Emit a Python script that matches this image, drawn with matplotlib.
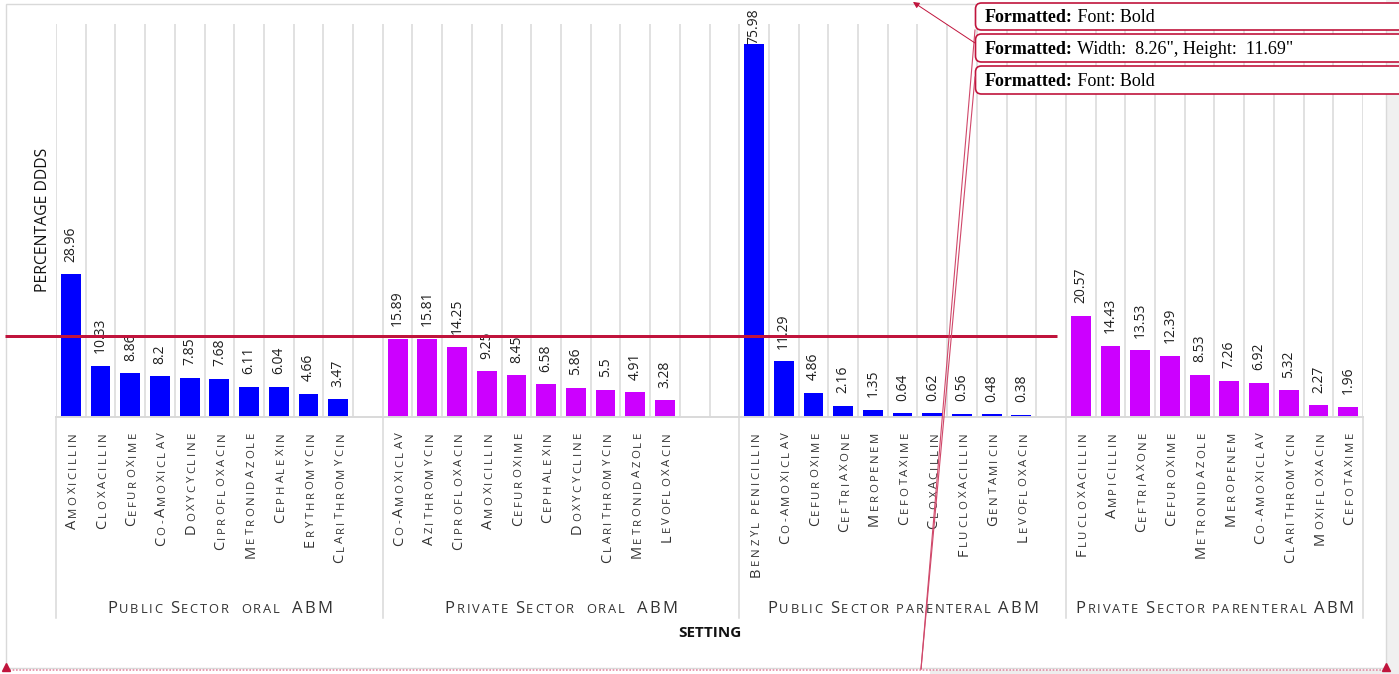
import matplotlib
matplotlib.use("Agg")
import matplotlib.pyplot as plt
from matplotlib.font_manager import FontProperties
from matplotlib.textpath import TextToPath
from matplotlib.patches import FancyBboxPatch, Rectangle

# ---------------------------------------------------------------- data
group_names = [
    "Public Sector  oral  ABM",
    "Private Sector  oral  ABM",
    "Public Sector parenteral ABM",
    "Private Sector parenteral ABM",
]

public_oral_drugs = ["Amoxicillin", "Cloxacillin", "Cefuroxime", "Co-Amoxiclav",
                     "Doxycycline", "Ciprofloxacin", "Metronidazole", "Cephalexin",
                     "Erythromycin", "Clarithromycin"]
public_oral_ddd = [28.96, 10.33, 8.86, 8.2, 7.85, 7.68, 6.11, 6.04, 4.66, 3.47]

private_oral_drugs = ["Co-Amoxiclav", "Azithromycin", "Ciprofloxacin", "Amoxicillin",
                      "Cefuroxime", "Cephalexin", "Doxycycline", "Clarithromycin",
                      "Metronidazole", "Levofloxacin"]
private_oral_ddd = [15.89, 15.81, 14.25, 9.25, 8.45, 6.58, 5.86, 5.5, 4.91, 3.28]

public_parenteral_drugs = ["Benzyl penicillin", "Co-amoxiclav", "Cefuroxime", "Ceftriaxone",
                           "Meropenem", "Cefotaxime", "Cloxacillin", "Flucloxacillin",
                           "Gentamicin", "Levofloxacin"]
public_parenteral_ddd = [75.98, 11.29, 4.86, 2.16, 1.35, 0.64, 0.62, 0.56, 0.48, 0.38]

private_parenteral_drugs = ["Flucloxacillin", "Ampicillin", "Ceftriaxone", "Cefuroxime",
                            "Metronidazole", "Meropenem", "Co-amoxiclav", "Clarithromycin",
                            "Moxifloxacin", "Cefotaxime"]
private_parenteral_ddd = [20.57, 14.43, 13.53, 12.39, 8.53, 7.26, 6.92, 5.32, 2.27, 1.96]

# empty category slots that close each group on the axis
group_blank_slots = [1, 2, 1, 0]

y_label = "PERCENTAGE DDDS"
x_label = "SETTING"
y_max = 80

balloon_notes = [("Formatted:", " Font: Bold"),
                 ("Formatted:", " Width:  8.26\", Height:  11.69\""),
                 ("Formatted:", " Font: Bold")]

# ---------------------------------------------------------------- style
W, H, DPI = 1399, 674, 100
FONT = ["Open Sans", "DejaVu Sans"]
SERIF = ["Liberation Serif", "DejaVu Serif"]
BLUE, MAGENTA = "#0000ff", "#cc00ff"
group_colors = [BLUE, MAGENTA, BLUE, MAGENTA]
GRID = "#d9d9d9"
LABEL_GREY = "#333333"
MARKUP = "#c0143c"
PX = 72.0 / DPI  # points per pixel

plt.rcParams["font.family"] = FONT

groups = [
    (public_oral_drugs, public_oral_ddd),
    (private_oral_drugs, private_oral_ddd),
    (public_parenteral_drugs, public_parenteral_ddd),
    (private_parenteral_drugs, private_parenteral_ddd),
]

fig = plt.figure(figsize=(W / DPI, H / DPI), dpi=DPI)
fig.patch.set_facecolor("white")

# plot area in pixels: left 56, right 1363, top 24, baseline 416.5
ax_left, ax_right, ax_top, ax_base = 56, 1363, 24, 416.5
ax = fig.add_axes([ax_left / W, (H - ax_base) / H,
                   (ax_right - ax_left) / W, (ax_base - ax_top) / H])
ax_h_px = ax_base - ax_top

# slot positions for every category (including blank ones)
positions, values, names, colors, bounds = [], [], [], [], [0]
slot = 0
for (drugs, ddd), blanks, col in zip(groups, group_blank_slots, group_colors):
    for d, v in zip(drugs, ddd):
        positions.append(slot)
        values.append(v)
        names.append(d)
        colors.append(col)
        slot += 1
    slot += blanks
    bounds.append(slot)
n_slots = slot

ax.bar(positions, values, width=0.667, color=colors, zorder=2, linewidth=0)
ax.set_xlim(-0.5, n_slots - 0.5)
ax.set_ylim(0, y_max)

ax.set_xticks([b - 0.5 for b in range(n_slots + 1)], minor=True)
ax.set_xticks([])
ax.set_yticks([])
ax.grid(which="minor", axis="x", color=GRID, lw=1.1, zorder=0)
ax.set_axisbelow(True)
ax.tick_params(which="both", length=0, labelbottom=False, labelleft=False)
for side in ("top", "right", "left"):
    ax.spines[side].set_visible(False)
ax.spines["bottom"].set_color(GRID)
ax.spines["bottom"].set_linewidth(1.4)
ax.spines["bottom"].set_zorder(3)

xt = ax.get_xaxis_transform()

# group separators running down through the category area
sep_depth = (618 - ax_base) / ax_h_px
for b in bounds:
    ax.plot([b - 0.5, b - 0.5], [0, -sep_depth], transform=xt, color=GRID,
            lw=1.1, clip_on=False, zorder=1)

# ---------------------------------------------------------------- small caps text
t2p = TextToPath()


def advance(ch, size):
    fp = FontProperties(family=FONT, size=size)
    w_in = t2p.get_text_width_height_descent("H" + ch + "H", fp, ismath=False)[0]
    w_out = t2p.get_text_width_height_descent("HH", fp, ismath=False)[0]
    return w_in - w_out


def smallcaps_glyphs(text, big, small):
    out = []
    for ch in text:
        if ch.isupper():
            out.append((ch, big))
        else:
            out.append((ch.upper(), small))
    return out


def draw_smallcaps(x, text, big, small, tracking, vertical, along0, across, color):
    glyphs = smallcaps_glyphs(text, big, small)
    adv = [advance(c, s) for c, s in glyphs]
    total = sum(adv) + tracking * (len(glyphs) - 1)
    pos = along0 - total if vertical else along0 - total / 2
    for (c, s), a in zip(glyphs, adv):
        if c.strip():
            if vertical:
                off = (across, pos)
            else:
                off = (pos, across)
            ax.annotate(c, xy=(x, 0), xycoords=xt, xytext=off,
                        textcoords="offset points", rotation=90 if vertical else 0,
                        rotation_mode="anchor", ha="left", va="baseline",
                        fontsize=s, color=color, annotation_clip=False)
        pos += a + tracking


# category names under each bar
cat_big, cat_small, cat_track = 10.5, 8.2, 1.8
cap_h = 0.714 * cat_big
for p, nm in zip(positions, names):
    draw_smallcaps(p, nm, cat_big, cat_small, cat_track, True,
                   -(432 - ax_base) * PX, cap_h / 2, LABEL_GREY)

# group titles
ttl_big, ttl_small, ttl_track = 12, 9.3, 1.35
for i, g in enumerate(group_names):
    centre = (bounds[i] + bounds[i + 1]) / 2 - 0.5
    draw_smallcaps(centre, g, ttl_big, ttl_small, ttl_track, False,
                   0, -(613 - ax_base) * PX, LABEL_GREY)

# value labels
gap_pt = 12.5 * PX
value_labels = []
for p, v in zip(positions, values):
    t = ax.annotate(f"{v:g}", xy=(p, v), xytext=(0, gap_pt), textcoords="offset points",
                    rotation=90, ha="center", va="bottom", fontsize=10,
                    color="#1f1f1f", annotation_clip=False, zorder=4)
    value_labels.append(t)

# axis titles
ax.set_ylabel(y_label, fontsize=11.3, color="#111111")
ax.yaxis.set_label_coords((43 - ax_left) / (ax_right - ax_left), 0.5)
ax.yaxis.label.set_va("center")
ax.set_xlabel(x_label, fontsize=11, fontweight="bold", color="#111111")
ax.xaxis.set_label_coords(0.5, -(633 - ax_base) / ax_h_px)
ax.xaxis.label.set_va("center")

# keep value labels inside the chart frame
fig.canvas.draw()
renderer = fig.canvas.get_renderer()
for t in value_labels:
    bb = t.get_window_extent(renderer)
    limit = H - 8
    if bb.y1 > limit:
        t.xyann = (0, gap_pt - (bb.y1 - limit) * PX)

# ---------------------------------------------------------------- document markup layer
ov = fig.add_axes([0, 0, 1, 1], zorder=10)
ov.set_xlim(0, W)
ov.set_ylim(H, 0)
ov.axis("off")
ov.patch.set_visible(False)

ov.add_patch(Rectangle((1386, 0), 14, H, color="#f0f0f0", lw=0))
ov.add_patch(Rectangle((930, 670), 470, 5, color="#eeeeee", lw=0))
ov.add_patch(Rectangle((5.5, 3.5), 1380, 664, fill=False, ec=GRID, lw=1.0))

# change bar across the chart
ov.plot([5, 1057], [336, 336], color=MARKUP, lw=3 * PX, solid_capstyle="butt")

# bottom dotted rule with anchors
ov.plot([6, 1386], [669.5, 669.5], color="#e48aa2", lw=1.2, ls=(0, (1, 1)))
ov.plot([6, 1386], [666.5, 666.5], ls="none", marker="^", ms=6, color=MARKUP)

# balloon connectors
ov.annotate("", xy=(913, 2), xytext=(975, 43),
            arrowprops=dict(arrowstyle="-|>", color=MARKUP, lw=0.7, mutation_scale=9,
                            shrinkA=0, shrinkB=0))
ov.plot([975, 921], [30, 669], color="#d0486a", lw=0.8)
ov.plot([975, 921], [77, 669], color="#d0486a", lw=0.8)

# balloons
boxes = [(3, 30), (34, 62), (66, 94)]
bold_fp = FontProperties(family=SERIF, size=13, weight="bold")
for (top, bot), (head, body) in zip(boxes, balloon_notes):
    ov.add_patch(FancyBboxPatch((975.5, top), 460, bot - top,
                                boxstyle="round,pad=0,rounding_size=6",
                                fc="white", ec=MARKUP, lw=1.2))
    yc = (top + bot) / 2 + 1
    ov.text(985, yc, head, fontsize=13, fontweight="bold", family=SERIF,
            ha="left", va="center", color="black")
    w_head = (t2p.get_text_width_height_descent(head + "n", bold_fp, ismath=False)[0]
              - t2p.get_text_width_height_descent("n", bold_fp, ismath=False)[0]) / PX
    ov.text(985 + w_head, yc, body, fontsize=13, family=SERIF,
            ha="left", va="center", color="black")

fig.savefig("out.png", dpi=DPI)
